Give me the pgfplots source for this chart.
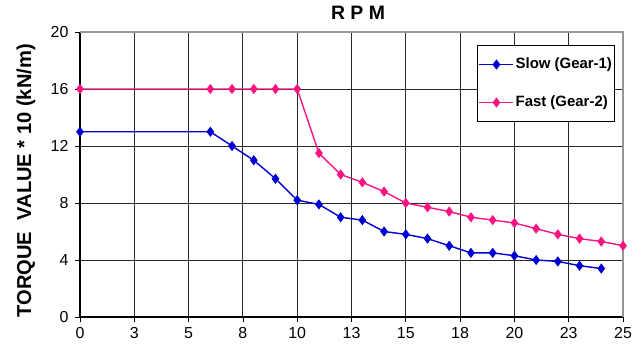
\documentclass[border=0pt]{standalone}
\usepackage{pgfplots}
\pgfplotsset{compat=1.18}
\usepackage{fontspec}
\setmainfont{Liberation Sans}
\definecolor{slowc}{RGB}{0,0,210}
\definecolor{fastc}{RGB}{250,20,130}
\definecolor{gridc}{RGB}{40,40,40}
\definecolor{framec}{RGB}{150,150,150}
\begin{document}
\begin{tikzpicture}
\path[use as bounding box] (0,0) rectangle (644bp,344bp);
\begin{axis}[
  at={(80bp,27bp)}, anchor=south west,
  scale only axis, width=543bp, height=285bp,
  xmin=0, xmax=25, ymin=0, ymax=20,
  xtick={0,2.5,...,25},
  xticklabels={0,3,5,8,10,13,15,18,20,23,25},
  ytick={0,4,...,20},
  axis lines*=left,
  axis line style={black, line width=1.2bp},
  tick align=outside,
  major tick length=5bp,
  tick style={black, line width=0.8bp},
  grid=major,
  major grid style={gridc, line width=0.9bp},
  /pgf/number format/assume math mode=true,
  tick label style={font=\fontsize{16}{18}\selectfont},
  xticklabel style={yshift=-2bp},
  yticklabel style={xshift=-3bp},
  title={\textbf{R P M}},
  title style={at={(axis description cs:0.512,1)}, anchor=base, yshift=7bp, font=\bfseries\fontsize{19.5}{22}\selectfont},
  ylabel={TORQUE~~VALUE * 10 (kN/m)},
  ylabel style={at={(axis description cs:-0.0994,0.478)}, anchor=center, font=\bfseries\fontsize{20.2}{23}\selectfont},
  clip=false,
  legend cell align=left,
  legend style={at={(axis description cs:0.985,0.954)}, anchor=north east,
    draw=black, line width=0.8bp, fill=white,
    inner xsep=1bp, inner ysep=0bp,
    font=\fontsize{15}{18}\selectfont,
    nodes={inner xsep=1.5bp, inner ysep=12bp, text height=11bp, text depth=3bp}},
  legend image code/.code={%
    \draw[mark repeat=2,mark phase=2,#1] plot coordinates {(0bp,0bp) (17bp,0bp) (34bp,0bp)};},
]
\draw[framec, line width=1.2bp] (rel axis cs:0,1) -- (rel axis cs:1,1) -- (rel axis cs:1,0);
\addplot[slowc, line width=1.4bp, mark=diamond*, mark size=4bp, mark options={fill=slowc, draw=slowc}] coordinates {
(0,13)(6,13)(7,12)(8,11)(9,9.7)(10,8.2)(11,7.9)(12,7.0)(13,6.8)(14,6.0)(15,5.8)(16,5.5)(17,5.0)(18,4.5)(19,4.5)(20,4.3)(21,4.0)(22,3.9)(23,3.6)(24,3.4)
};
\addlegendentry{\textbf{Slow (Gear-1)}}
\addplot[fastc, line width=1.4bp, mark=diamond*, mark size=4bp, mark options={fill=fastc, draw=fastc}] coordinates {
(0,16)(6,16)(7,16)(8,16)(9,16)(10,16)(11,11.5)(12,10.0)(13,9.45)(14,8.8)(15,8.0)(16,7.7)(17,7.4)(18,7.0)(19,6.8)(20,6.6)(21,6.2)(22,5.8)(23,5.5)(24,5.3)(25,5.0)
};
\addlegendentry{\textbf{Fast (Gear-2)}}
\end{axis}
\end{tikzpicture}
\end{document}
